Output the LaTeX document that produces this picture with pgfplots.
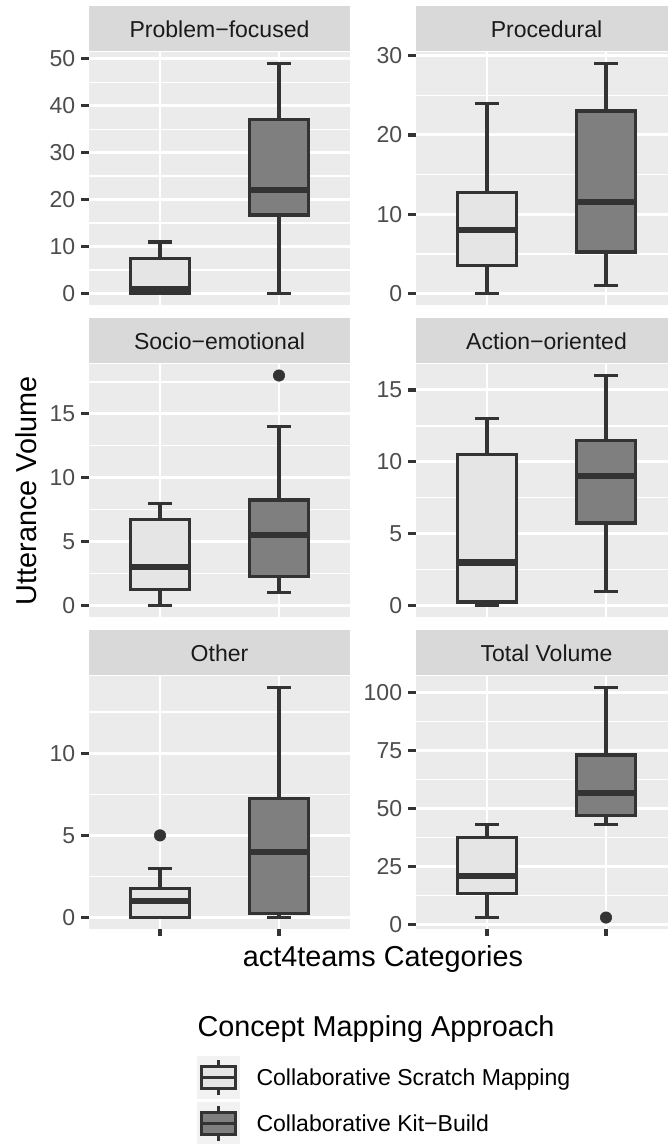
\documentclass[border=0pt]{standalone}
\usepackage{fontspec}
\setmainfont{Liberation Sans}
\usepackage{pgfplots}
\pgfplotsset{compat=1.18}
\usepgfplotslibrary{statistics}
\definecolor{panelbg}{HTML}{EBEBEB}
\definecolor{stripbg}{HTML}{D9D9D9}
\definecolor{grey20}{HTML}{333333}
\definecolor{grey30}{HTML}{4D4D4D}
\definecolor{grey10}{HTML}{1A1A1A}
\definecolor{scratchfill}{HTML}{E5E5E5}
\definecolor{kitfill}{HTML}{7F7F7F}
\definecolor{keybg}{HTML}{F2F2F2}
\pgfplotsset{
  facet/.style={
    scale only axis, width=100pt, height=96.65pt, anchor=north west,
    xmin=-0.6, xmax=1.6,
    axis background/.style={fill=panelbg},
    axis line style={draw=none},
    xtick={0,1}, xticklabels={},
    xmajorgrids, ymajorgrids, yminorgrids,
    major grid style={white, line width=1.07pt},
    minor grid style={white, line width=0.53pt},
    tick align=outside, major tick length=2.75pt, minor tick length=0pt,
    tick style={grey20, line width=1.25pt},
    tick pos=left,
    yticklabel style={font=\fontsize{8.8}{10}\selectfont, text=grey30, inner xsep=2.2pt},
    /pgf/number format/assume math mode=true,
    /pgf/number format/fixed,
    every axis title/.style={at={(0.5,1)}, anchor=south, fill=stripbg,
      minimum width=100pt, minimum height=17.19pt, inner sep=0pt,
      text height=6.4pt, text depth=0pt,
      text=grey10, font=\fontsize{8.8}{10}\selectfont},
    boxplot/draw direction=y,
    boxplot/box extend=0.5,
    boxplot/whisker extend=0.2,
  },
  toprow/.style={xtick style={draw=none}},
  scratch/.style={draw=grey20, line width=1.25pt,
    boxplot/every box/.style={fill=scratchfill, draw=grey20, line width=1.25pt},
    boxplot/every median/.style={draw=grey20, line width=2.4pt},
    boxplot/every whisker/.style={draw=grey20, line width=1.25pt},
    mark=*, mark size=2.2pt, mark options={fill=grey20, draw=grey20, line width=0.2pt}},
  kit/.style={draw=grey20, line width=1.25pt,
    boxplot/every box/.style={fill=kitfill, draw=grey20, line width=1.25pt},
    boxplot/every median/.style={draw=grey20, line width=2.4pt},
    boxplot/every whisker/.style={draw=grey20, line width=1.25pt},
    mark=*, mark size=2.2pt, mark options={fill=grey20, draw=grey20, line width=0.2pt}},
}
\newcommand{\legkey}[2]{%
  \begin{scope}[shift={(75.25pt,#1)}, x=16.43pt, y=-16.43pt]
    \fill[keybg] (0,0) rectangle (1,1);
    \draw[grey20, line width=1.2pt] (0.5,0.1) -- (0.5,0.25) (0.5,0.75) -- (0.5,0.9);
    \filldraw[fill=#2, draw=grey20, line width=1.2pt] (0.1,0.25) rectangle (0.9,0.75);
    \draw[grey20, line width=1.2pt] (0.1,0.5) -- (0.9,0.5);
  \end{scope}}
\begin{document}
\begin{tikzpicture}
% Row 1
\begin{axis}[facet, toprow, at={(33.85pt,-19.86pt)}, title={Problem−focused},
  ymin=-2.45, ymax=51.45, ytick={0,10,20,30,40,50}, minor ytick={5,15,25,35,45}]
\addplot[scratch, boxplot prepared={draw position=0, lower whisker=0, lower quartile=0, median=1, upper quartile=7.5, upper whisker=11}] coordinates {};
\addplot[kit, boxplot prepared={draw position=1, lower whisker=0, lower quartile=16.75, median=22, upper quartile=37, upper whisker=49}] coordinates {};
\end{axis}
\begin{axis}[facet, toprow, at={(158.76pt,-19.86pt)}, title={Procedural},
  ymin=-1.45, ymax=30.45, ytick={0,10,20,30}, minor ytick={5,15,25}]
\addplot[scratch, boxplot prepared={draw position=0, lower whisker=0, lower quartile=3.5, median=8, upper quartile=12.75, upper whisker=24}] coordinates {};
\addplot[kit, boxplot prepared={draw position=1, lower whisker=1, lower quartile=5.25, median=11.5, upper quartile=23, upper whisker=29}] coordinates {};
\end{axis}
% Row 2
\begin{axis}[facet, toprow, at={(33.85pt,-139.05pt)}, title={Socio−emotional},
  ymin=-0.9, ymax=18.9, ytick={0,5,10,15}, minor ytick={2.5,7.5,12.5,17.5}]
\addplot[scratch, boxplot prepared={draw position=0, lower whisker=0, lower quartile=1.25, median=3, upper quartile=6.75, upper whisker=8}] coordinates {};
\addplot[kit, boxplot prepared={draw position=1, lower whisker=1, lower quartile=2.25, median=5.5, upper quartile=8.25, upper whisker=14}] coordinates {(1,18)};
\end{axis}
\begin{axis}[facet, toprow, at={(158.76pt,-139.05pt)}, title={Action−oriented},
  ymin=-0.8, ymax=16.8, ytick={0,5,10,15}, minor ytick={2.5,7.5,12.5}]
\addplot[scratch, boxplot prepared={draw position=0, lower whisker=0, lower quartile=0.25, median=3, upper quartile=10.5, upper whisker=13}] coordinates {};
\addplot[kit, boxplot prepared={draw position=1, lower whisker=1, lower quartile=5.75, median=9, upper quartile=11.5, upper whisker=16}] coordinates {};
\end{axis}
% Row 3
\begin{axis}[facet, at={(33.85pt,-258.23pt)}, title={Other},
  ymin=-0.7, ymax=14.7, ytick={0,5,10}, minor ytick={2.5,7.5,12.5}]
\addplot[scratch, boxplot prepared={draw position=0, lower whisker=0, lower quartile=0, median=1, upper quartile=1.75, upper whisker=3}] coordinates {(0,5)};
\addplot[kit, boxplot prepared={draw position=1, lower whisker=0, lower quartile=0.25, median=4, upper quartile=7.25, upper whisker=14}] coordinates {};
\end{axis}
\begin{axis}[facet, at={(158.76pt,-258.23pt)}, title={Total Volume},
  ymin=-1.95, ymax=106.95, ytick={0,25,50,75,100}, minor ytick={12.5,37.5,62.5,87.5}]
\addplot[scratch, boxplot prepared={draw position=0, lower whisker=3, lower quartile=13.25, median=21, upper quartile=37.5, upper whisker=43}] coordinates {};
\addplot[kit, boxplot prepared={draw position=1, lower whisker=43, lower quartile=47, median=56.5, upper quartile=73, upper whisker=102}] coordinates {(1,3)};
\end{axis}
% Axis titles
\node[rotate=90, font=\fontsize{11}{13}\selectfont, inner sep=0pt] at (10.2pt,-187.4pt) {Utterance Volume};
\node[anchor=base, font=\fontsize{11}{13}\selectfont, inner sep=0pt] at (146.3pt,-369.0pt) {act4teams Categories};
% Legend
\node[anchor=base west, font=\fontsize{11}{13}\selectfont, inner sep=0pt] at (75.25pt,-396.1pt) {Concept Mapping Approach};
\legkey{-403.39pt}{scratchfill}
\legkey{-420.96pt}{kitfill}
\node[anchor=base west, font=\fontsize{8.8}{10}\selectfont, inner sep=0pt] at (97.8pt,-414.7pt) {Collaborative Scratch Mapping};
\node[anchor=base west, font=\fontsize{8.8}{10}\selectfont, inner sep=0pt] at (97.8pt,-432.3pt) {Collaborative Kit−Build};
\pgfresetboundingbox
\path[use as bounding box] (0pt,0pt) rectangle (254.79pt,-437.0pt);
\end{tikzpicture}
\end{document}
